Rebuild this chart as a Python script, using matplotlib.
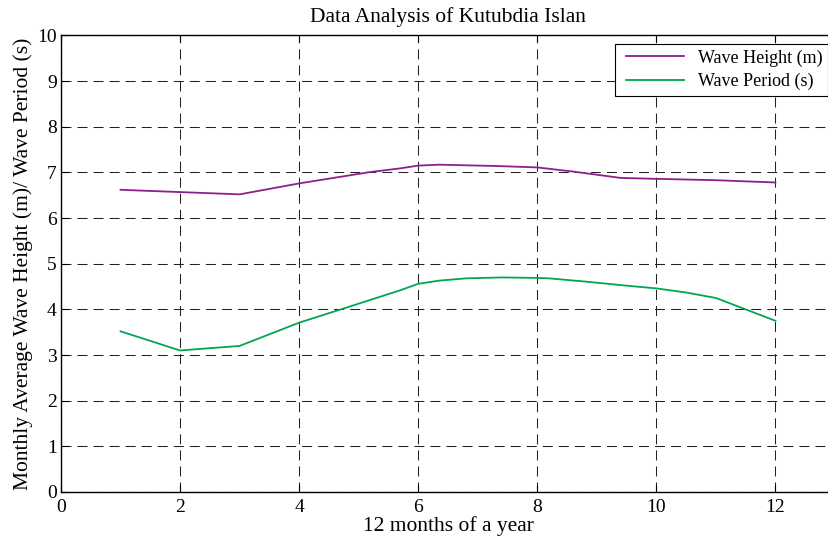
import matplotlib
matplotlib.use('Agg')
import matplotlib.pyplot as plt
from matplotlib.lines import Line2D
from matplotlib.legend_handler import HandlerLine2D

plt.rcParams['font.family'] = ['Liberation Serif', 'DejaVu Serif']
plt.rcParams['mathtext.fontset'] = 'stix'

# values
height_x = [1.0, 2.0, 3.0, 4.0, 5.2, 5.7, 6.0, 6.35, 7.35, 8.0, 8.6, 9.4, 10.0, 11.0, 12.0]
height_y = [6.62, 6.57, 6.52, 6.76, 7.01, 7.09, 7.15, 7.17, 7.14, 7.11, 7.02, 6.88, 6.86, 6.83, 6.78]

period_x = [1.0, 2.0, 3.0, 4.0, 4.7, 5.7, 6.0, 6.35, 6.8, 7.4, 8.0, 8.2, 8.8, 9.5, 10.0, 10.5, 11.0, 12.0]
period_y = [3.52, 3.10, 3.20, 3.71, 4.00, 4.42, 4.56, 4.63, 4.68, 4.70, 4.69, 4.68, 4.61, 4.52, 4.46, 4.37, 4.25, 3.75]

xticks = [0, 2, 4, 6, 8, 10, 12]
yticks = list(range(0, 11))

W, H = 829, 541
fig = plt.figure(figsize=(W / 100, H / 100), dpi=100)
# axes runs past the right edge of the picture (cropped like the reference)
ax = fig.add_axes([61 / W, 49 / H, (835 - 61) / W, (492 - 35.5) / H])

ax.plot(height_x, height_y, color='#8e1f8e', lw=1.3, label='Wave Height (m)')
ax.plot(period_x, period_y, color='#00a651', lw=1.3, label='Wave Period (s)')

ax.set_xlim(0, 13)
ax.set_ylim(0, 10)
ax.set_xticks(xticks)
ax.set_yticks(yticks)
ax.tick_params(direction='in', top=True, right=True, length=5, labelsize=14)
ax.tick_params(axis='x', pad=5)
ax.tick_params(axis='y', pad=3)
ax.grid(True, color='#222222', linestyle=(0, (9.6, 5.8)), linewidth=0.75)
for s in ax.spines.values():
    s.set_linewidth(1.0)

ax.set_title('Data Analysis of Kutubdia Islan', fontsize=15.5, pad=10)
ax.set_xlabel('12 months of a year', fontsize=15.5, labelpad=0)
ax.set_ylabel('Monthly Average Wave Height (m)/ Wave Period (s)', fontsize=15.5, labelpad=3)

leg = ax.legend(loc='upper right', bbox_to_anchor=(828 / W, 1 - 44 / H),
                bbox_transform=fig.transFigure, borderaxespad=0, fontsize=13,
                fancybox=False, framealpha=1, edgecolor='black', handlelength=3.5,
                borderpad=0.3, labelspacing=0.35, handletextpad=0.8,
                handler_map={Line2D: HandlerLine2D(xpad=0.3)})
leg.get_frame().set_linewidth(0.8)

fig.savefig('out.png', dpi=100)
